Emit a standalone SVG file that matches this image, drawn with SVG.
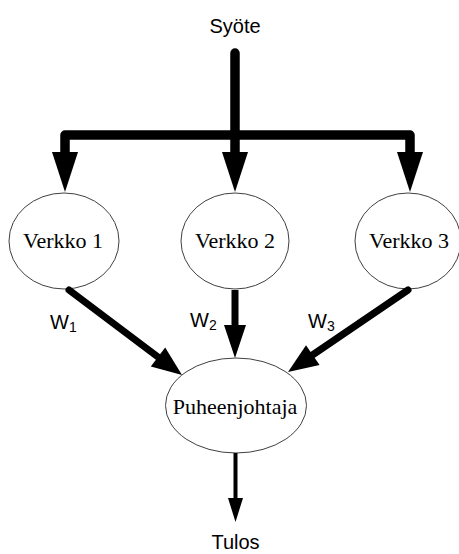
<svg xmlns="http://www.w3.org/2000/svg" width="459" height="554" viewBox="0 0 459 554">
  <style>
    .node { fill: #ffffff; stroke: #404040; stroke-width: 1; }
    .ntext { font-family: "Liberation Serif", "Times New Roman", serif; font-size: 22px; fill: #000; text-anchor: middle; }
    .label { font-family: "Liberation Sans", Arial, sans-serif; font-size: 20px; fill: #000; }
    .sub { font-size: 14px; }
    .wire { fill: none; stroke: #000; }
    .head { fill: #000; stroke: none; }
  </style>

  <rect width="459" height="554" fill="#ffffff"/>

  <!-- input / output labels -->
  <text class="label" x="235" y="33" text-anchor="middle">Syöte</text>
  <text class="label" x="235.5" y="549" text-anchor="middle">Tulos</text>

  <!-- nodes -->
  <g id="verkko1">
    <ellipse class="node" cx="64" cy="241" rx="55" ry="48"/>
    <text class="ntext" x="63" y="248">Verkko 1</text>
  </g>
  <g id="verkko2">
    <ellipse class="node" cx="235" cy="241" rx="54" ry="48"/>
    <text class="ntext" x="235" y="248">Verkko 2</text>
  </g>
  <g id="verkko3">
    <ellipse class="node" cx="408" cy="241" rx="53" ry="48"/>
    <text class="ntext" x="409" y="248">Verkko 3</text>
  </g>
  <g id="puheenjohtaja">
    <ellipse class="node" cx="236" cy="405.5" rx="70.5" ry="47.5"/>
    <text class="ntext" x="235" y="414">Puheenjohtaja</text>
  </g>

  <!-- connectors -->
  <g id="connectors">
    <!-- input trunk and distribution bar -->
    <path class="wire" d="M235,53 V153" stroke-width="9.5" stroke-linecap="round"/>
    <path class="wire" d="M65,153 V135 H410 V153" stroke-width="9.5" stroke-linejoin="round"/>
    <polygon class="head" points="52,152 78,152 65,192"/>
    <polygon class="head" points="222,152 248,152 235,192"/>
    <polygon class="head" points="397,152 423,152 410,192"/>

    <!-- weighted outputs to the chairman -->
    <path class="wire" d="M69,290 L160,358.5" stroke-width="7" stroke-linecap="round"/>
    <polygon class="head" points="150.8,366.6 165.2,347.4 182,375"/>

    <path class="wire" d="M235,290 V326" stroke-width="7"/>
    <polygon class="head" points="224,325 246,325 235,358"/>

    <path class="wire" d="M408,290 L311,356" stroke-width="7" stroke-linecap="round"/>
    <polygon class="head" points="319.6,365 306,345.2 288,372"/>

    <!-- final output -->
    <path class="wire" d="M235.5,453 V499" stroke-width="4"/>
    <polygon class="head" points="228,498 243,498 235.5,522"/>
  </g>

  <!-- weight labels -->
  <text class="label" x="50" y="329">W<tspan class="sub" dy="3">1</tspan></text>
  <text class="label" x="190" y="327">W<tspan class="sub" dy="3">2</tspan></text>
  <text class="label" x="308" y="328">W<tspan class="sub" dy="3">3</tspan></text>
</svg>
